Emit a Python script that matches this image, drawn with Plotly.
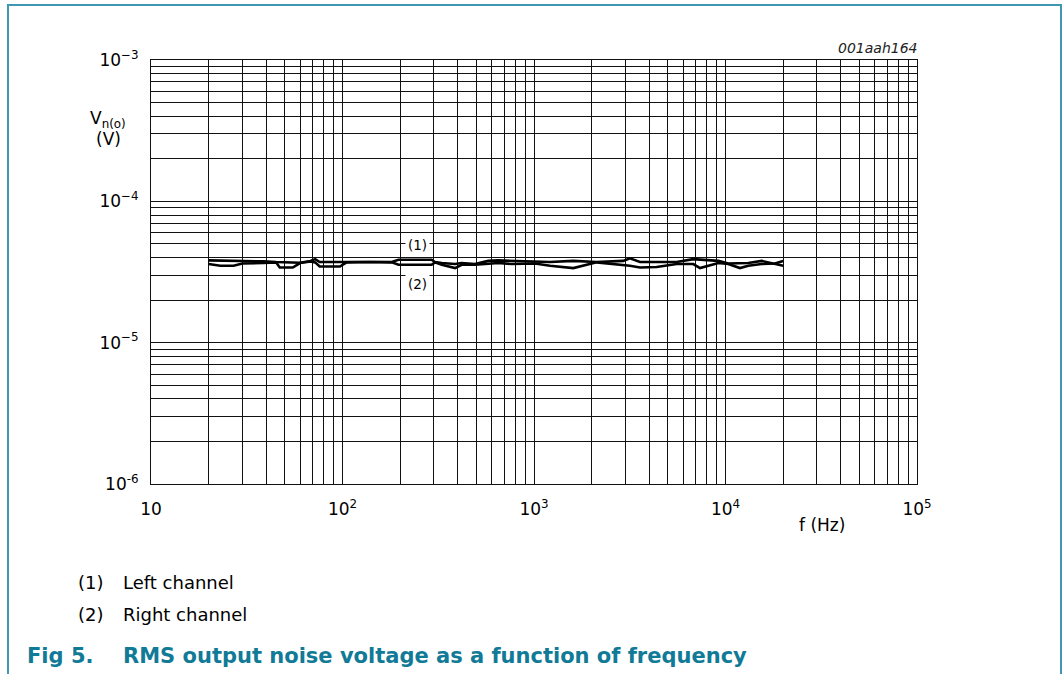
import plotly.graph_objects as go

# ---------------- data ----------------
# Frequencies in Hz, noise voltages in microvolts
freq_left = [20, 30, 38.6, 45, 55, 60, 68, 72, 76, 97, 131, 181, 196, 292, 304, 330,
             387, 419, 492, 577, 651, 765, 1012, 1212, 1604, 2124, 2925, 3168, 3577,
             4372, 5560, 6790, 9175, 10340, 11900, 13150, 15450, 18140, 20000]
v_left_uV = [38.2, 38.0, 37.6, 37.2, 37.2, 36.8, 37.8, 39.0, 37.2, 37.2, 37.2, 37.2,
             38.6, 38.6, 37.2, 36.6, 36.0, 36.6, 36.0, 37.9, 38.2, 37.9, 37.5, 37.2,
             37.9, 37.2, 37.9, 39.5, 37.2, 37.2, 37.2, 39.0, 37.9, 36.3, 36.6, 36.6,
             37.9, 36.3, 35.0]

freq_right = [20, 23, 27, 30, 38.6, 45, 47, 55, 60, 68, 72, 76, 97, 105, 139, 181, 196,
              292, 304, 330, 387, 419, 492, 577, 651, 765, 1012, 1212, 1604, 2124, 2925,
              3168, 3577, 4372, 5560, 6790, 7360, 9175, 10340, 11900, 13150, 15450,
              18140, 20000]
v_right_uV = [36.0, 35.0, 35.0, 36.3, 36.6, 37.0, 34.0, 34.0, 36.6, 37.5, 37.0, 34.6,
              34.6, 37.0, 37.2, 37.0, 35.6, 35.6, 37.0, 35.6, 33.7, 35.6, 35.6, 36.3,
              36.6, 36.0, 36.3, 35.0, 33.7, 37.0, 35.6, 35.0, 34.0, 34.3, 36.0, 36.0,
              33.7, 36.6, 36.0, 33.7, 35.0, 36.0, 36.3, 37.9]

x_decades = [10, 100, 1000, 10000, 100000]
x_tick_text = ["10", "10<sup>2</sup>", "10<sup>3</sup>", "10<sup>4</sup>", "10<sup>5</sup>"]
y_decades = [1e-6, 1e-5, 1e-4, 1e-3]
y_tick_text = ["10<sup>-6</sup>", "10<sup>\u22125</sup>", "10<sup>\u22124</sup>", "10<sup>\u22123</sup>"]

curve_labels = ["(1)", "(2)"]
legend_items = [("(1)", "Left channel"), ("(2)", "Right channel")]
caption_num = "Fig 5."
caption_text = "RMS output noise voltage as a function of frequency"
figure_id = "001aah164"

# ---------------- layout geometry ----------------
W, H = 1063, 674
L, R, T, B = 151, 146, 60, 190
PW, PH = W - L - R, H - T - B
FONT = "DejaVu Sans, Liberation Sans, Arial, sans-serif"
TEAL = "#107a97"
BORDER = "#3f97b4"


def px(x):
    return (x - L) / PW


def py(y):
    return (H - B - y) / PH


def minor_vals(decades):
    vals = []
    for d in decades[:-1]:
        for m in range(2, 10):
            vals.append(d * m)
    return vals


fig = go.Figure()
fig.add_trace(go.Scatter(x=freq_left, y=[v * 1e-6 for v in v_left_uV], mode="lines",
                         line=dict(color="black", width=2.6), name="Left channel",
                         showlegend=False))
fig.add_trace(go.Scatter(x=freq_right, y=[v * 1e-6 for v in v_right_uV], mode="lines",
                         line=dict(color="black", width=2.6), name="Right channel",
                         showlegend=False))

GRID = "#111111"
axis_common = dict(showgrid=True, gridcolor=GRID, gridwidth=1, zeroline=False,
                   showline=True, linecolor=GRID, linewidth=1, mirror=True,
                   tickmode="array", ticks="outside", tickcolor="rgba(0,0,0,0)",
                   tickfont=dict(family=FONT, size=17, color="black"))

fig.update_xaxes(type="log", range=[1, 5], tickvals=x_decades, ticktext=x_tick_text,
                 ticklen=10,
                 minor=dict(tickvals=minor_vals(x_decades), showgrid=True,
                            gridcolor=GRID, gridwidth=1, ticks=""),
                 **axis_common)
fig.update_yaxes(type="log", range=[-6, -3], tickvals=y_decades, ticktext=y_tick_text,
                 ticklen=8,
                 minor=dict(tickvals=minor_vals(y_decades), showgrid=True,
                            gridcolor=GRID, gridwidth=1, ticks=""),
                 **axis_common)

ann = []
# figure id
ann.append(dict(x=px(919), y=py(48), text="<i>" + figure_id + "</i>", xanchor="right",
                yanchor="middle", font=dict(family=FONT, size=14, color="#222")))
# y axis title
ann.append(dict(x=px(108), y=py(120), text="V<sub>n(o)</sub>", xanchor="center",
                yanchor="middle", font=dict(family=FONT, size=17, color="black")))
ann.append(dict(x=px(108), y=py(139), text="(V)", xanchor="center", yanchor="middle",
                font=dict(family=FONT, size=17, color="black")))
# x axis title
ann.append(dict(x=px(822), y=py(525), text="f (Hz)", xanchor="center", yanchor="middle",
                font=dict(family=FONT, size=17, color="black")))
# curve labels
for lbl, yy in zip(curve_labels, [245, 284]):
    ann.append(dict(x=px(417), y=py(yy), text=lbl, xanchor="center", yanchor="middle",
                    bgcolor="white", borderpad=2,
                    font=dict(family=FONT, size=13.5, color="black")))
# legend notes
for (num, txt), yy in zip(legend_items, [582, 614]):
    ann.append(dict(x=px(76), y=py(yy), text=num, xanchor="left", yanchor="middle",
                    font=dict(family=FONT, size=18, color="black")))
    ann.append(dict(x=px(121), y=py(yy), text=txt, xanchor="left", yanchor="middle",
                    font=dict(family=FONT, size=18, color="black")))
# caption
ann.append(dict(x=px(25), y=py(656), text="<b>" + caption_num + "</b>", xanchor="left",
                yanchor="middle", font=dict(family=FONT, size=21, color=TEAL)))
ann.append(dict(x=px(121), y=py(656), text="<b>" + caption_text + "</b>", xanchor="left",
                yanchor="middle", font=dict(family=FONT, size=21, color=TEAL)))
for a in ann:
    a.update(xref="paper", yref="paper", showarrow=False)

shapes = [
    dict(type="line", x0=px(8), x1=px(1061), y0=py(5), y1=py(5)),
    dict(type="line", x0=px(8), x1=px(8), y0=py(4), y1=py(674)),
    dict(type="line", x0=px(1061), x1=px(1061), y0=py(4), y1=py(674)),
]
for s in shapes:
    s.update(xref="paper", yref="paper", line=dict(color=BORDER, width=2))

fig.update_layout(width=W, height=H, autosize=False,
                  margin=dict(l=L, r=R, t=T, b=B, pad=0),
                  paper_bgcolor="white", plot_bgcolor="white",
                  annotations=ann, shapes=shapes, showlegend=False,
                  font=dict(family=FONT, color="black"))

fig.write_html("out.html", config={"displayModeBar": False},
               post_script="document.body.style.margin='0';document.body.style.overflow='hidden';")
